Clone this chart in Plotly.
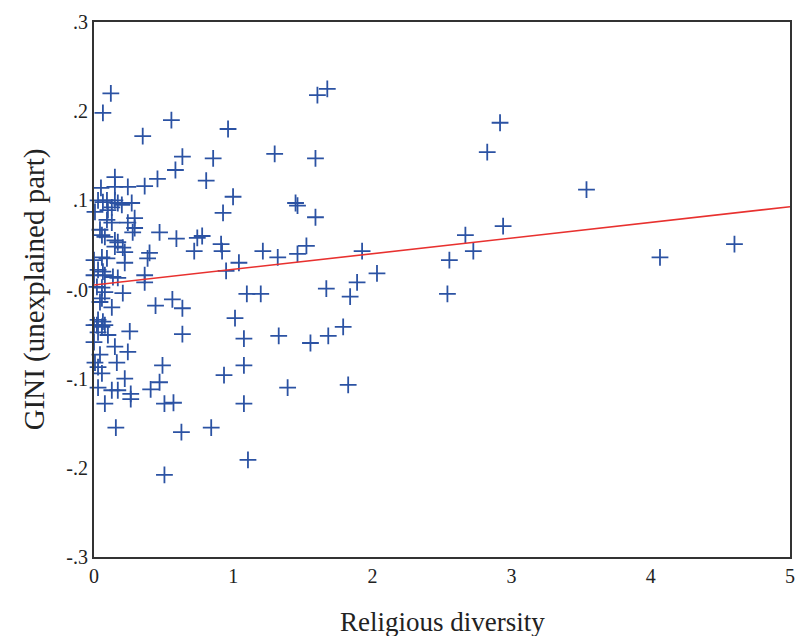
import plotly.graph_objects as go

# Religious diversity (x) and GINI unexplained part (y)
diversity = [0.121, 0.064, 0.556, 0.963, 0.350, 1.298, 0.635, 0.856, 0.585, 0.150,
             0.456, 0.806, 0.050, 0.150, 0.243, 0.364, 0.999, 0.927, 1.605, 1.676,
             2.917, 2.825, 1.591, 1.448, 1.462, 1.591, 2.939, 2.668, 1.526, 1.213,
             1.320, 1.462, 1.926, 2.725, 2.553, 3.538, 4.066, 4.601, 2.033, 1.890,
             1.669, 1.840, 2.539, 1.098, 1.198, 1.790, 1.683, 1.555, 1.327, 1.391,
             1.826, 1.013, 1.077, 1.077, 0.934, 1.077, 1.106, 0.842, 0.628, 0.506,
             0.157, 0.506, 0.571, 0.078, 0.407, 0.264, 0.264, 0.128, 0.171, 0.029,
             0.471, 0.221, 0.057, 0.492, 0.164, 0.007, 0.029, 0.043, 0.243, 0.150,
             0.000, 0.257, 0.635, 0.029, 0.100, 0.000, 0.021, 0.057, 0.078, 0.029,
             0.064, 0.635, 0.442, 0.563, 0.128, 0.043, 0.057, 0.207, 0.078, 0.057,
             0.021, 0.364, 0.364, 0.000, 0.078, 0.136, 0.171, 0.029, 0.064, 0.949,
             1.041, 0.221, 0.000, 0.057, 0.093, 0.399, 0.385, 0.207, 0.221, 0.150,
             0.720, 0.920, 0.913, 0.592, 0.742, 0.777, 0.471, 0.278, 0.292, 0.043,
             0.057, 0.078, 0.150, 0.171, 0.292, 0.243, 0.128, 0.093, 0.007, 0.100,
             0.128, 0.029, 0.064, 0.093, 0.150, 0.171, 0.200, 0.271]
gini_unexplained = [0.220, 0.198, 0.190, 0.180, 0.172, 0.152, 0.149, 0.147, 0.134, 0.126,
                    0.124, 0.122, 0.114, 0.115, 0.115, 0.116, 0.104, 0.086, 0.218, 0.225,
                    0.187, 0.154, 0.147, 0.097, 0.094, 0.081, 0.071, 0.061, 0.049, 0.043,
                    0.036, 0.040, 0.043, 0.043, 0.033, 0.112, 0.036, 0.051, 0.018, 0.008,
                    0.001, -0.008, -0.005, -0.005, -0.005, -0.042, -0.052, -0.060, -0.052, -0.110,
                    -0.107, -0.032, -0.055, -0.085, -0.096, -0.128, -0.191, -0.155, -0.160, -0.208,
                    -0.155, -0.128, -0.127, -0.128, -0.112, -0.117, -0.123, -0.113, -0.113, -0.110,
                    -0.104, -0.100, -0.094, -0.085, -0.082, -0.082, -0.087, -0.073, -0.070, -0.064,
                    -0.059, -0.047, -0.050, -0.048, -0.051, -0.040, -0.040, -0.042, -0.040, -0.034,
                    -0.036, -0.021, -0.018, -0.011, -0.020, -0.014, -0.010, -0.004, -0.003, 0.002,
                    0.003, 0.008, 0.016, 0.016, 0.016, 0.014, 0.013, 0.022, 0.020, 0.021,
                    0.030, 0.030, 0.033, 0.036, 0.035, 0.041, 0.035, 0.047, 0.042, 0.048,
                    0.043, 0.043, 0.051, 0.057, 0.058, 0.060, 0.064, 0.064, 0.069, 0.067,
                    0.061, 0.059, 0.055, 0.053, 0.080, 0.075, 0.075, 0.078, 0.087, 0.089,
                    0.092, 0.100, 0.098, 0.100, 0.100, 0.097, 0.095, 0.097]

# Fitted line
fit_intercept = 0.005
fit_slope = 0.01756
fit_x = [0, 5]
fit_y = [fit_intercept + fit_slope * v for v in fit_x]

x_ticks = [0, 1, 2, 3, 4, 5]
x_ticklabels = ["0", "1", "2", "3", "4", "5"]
y_ticks = [0.3, 0.2, 0.1, 0.0, -0.1, -0.2, -0.3]
y_ticklabels = [".3", ".2", ".1", "-.0", "-.1", "-.2", "-.3"]

fig = go.Figure()
fig.add_trace(go.Scatter(
    x=diversity, y=gini_unexplained, mode="markers",
    marker=dict(symbol="cross-thin", size=12, line=dict(width=1.8, color="#2b52a3")),
    cliponaxis=False, showlegend=False))
fig.add_trace(go.Scatter(
    x=fit_x, y=fit_y, mode="lines",
    line=dict(color="#e8312f", width=1.6), showlegend=False))

font_serif = "Liberation Serif"
fig.update_layout(
    width=799, height=636,
    margin=dict(l=94, r=4, t=22, b=79),
    paper_bgcolor="white", plot_bgcolor="white",
    font=dict(family=font_serif, color="#222222", size=19),
    xaxis=dict(range=[0, 5], tickvals=x_ticks, ticktext=x_ticklabels,
               showgrid=False, zeroline=False, showline=True, mirror=True,
               linecolor="#333333", linewidth=2, ticks="", ticklen=0,
               tickfont=dict(family=font_serif, size=20)),
    yaxis=dict(range=[-0.3, 0.3], tickvals=y_ticks, ticktext=y_ticklabels,
               showgrid=False, zeroline=False, showline=True, mirror=True,
               linecolor="#333333", linewidth=2, ticks="", ticklen=0,
               tickfont=dict(family=font_serif, size=20)),
    annotations=[
        dict(text="Religious diversity", xref="paper", yref="paper",
             x=0.5, y=-0.122, xanchor="center", yanchor="middle", showarrow=False,
             font=dict(family=font_serif, size=27, color="#222222")),
        dict(text="GINI (unexplained part)", xref="paper", yref="paper",
             x=-0.085, y=0.5, xanchor="center", yanchor="middle", showarrow=False,
             textangle=-90, font=dict(family=font_serif, size=29, color="#222222")),
    ],
)

fig.write_html("out.html")
